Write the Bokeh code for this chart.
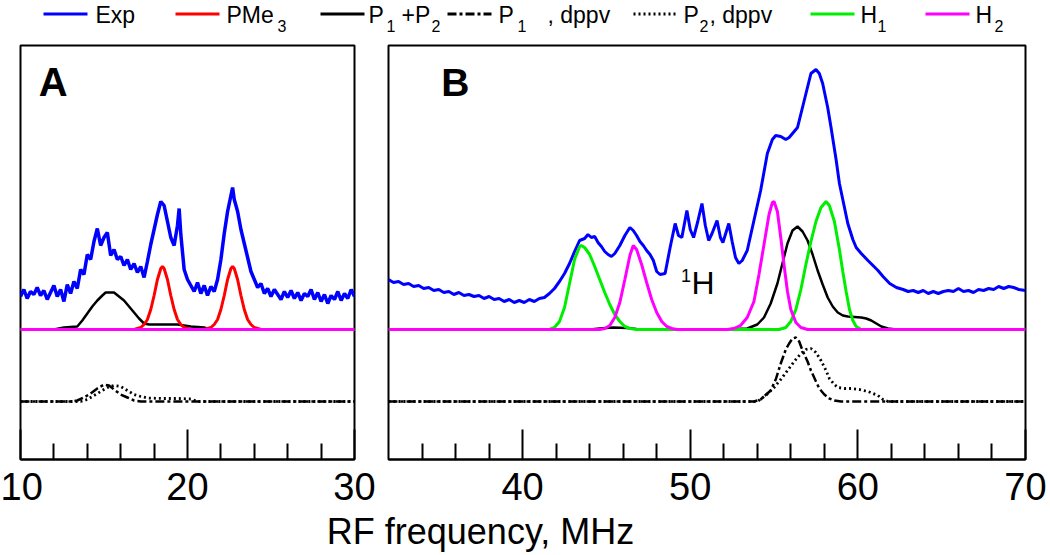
from bokeh.plotting import figure
from bokeh.layouts import column, row
from bokeh.models import Range1d, FixedTicker, Label
from bokeh.core.properties import value
from bokeh.embed import file_html
from bokeh.resources import INLINE

FONT = "Liberation Sans"

# ---------------- data (intensity in arbitrary units; 0 = fit baseline, -72 = dppv baseline)
# Panel A (10-30 MHz)
exp_a_f = [10.0, 10.2, 10.4, 10.6, 10.8, 11.0, 11.2, 11.4, 11.6, 11.8, 12.0, 12.2, 12.4, 12.6, 12.8,
           13.0, 13.2, 13.4, 13.6, 13.8, 14.0, 14.2, 14.4, 14.6, 14.8, 15.0, 15.2, 15.4, 15.6, 15.8,
           16.0, 16.2, 16.4, 16.6, 16.8, 17.0, 17.2, 17.4, 17.6, 17.8, 18.0, 18.2, 18.4, 18.6, 18.8,
           19.0, 19.2, 19.4, 19.5, 19.6, 19.8, 20.0, 20.2, 20.4, 20.6, 20.8, 21.0, 21.2, 21.4, 21.6,
           21.8, 22.0, 22.2, 22.4, 22.6, 22.7, 22.8, 23.0, 23.2, 23.4, 23.6, 23.8, 24.0, 24.2, 24.4,
           24.6, 24.8, 25.0, 25.2, 25.4, 25.6, 25.8, 26.0, 26.2, 26.4, 26.6, 26.8, 27.0, 27.2, 27.4,
           27.6, 27.8, 28.0, 28.2, 28.4, 28.6, 28.8, 29.0, 29.2, 29.4, 29.6, 29.8, 30.0]
exp_a_v = [33, 40, 31, 38, 35, 42, 34, 39, 30, 37, 44, 33, 40, 28, 45,
           36, 48, 41, 60, 55, 75, 70, 88, 101, 84, 92, 97, 74, 80, 70,
           73, 64, 70, 60, 66, 57, 63, 52, 68, 85, 100, 115, 128, 124, 108,
           92, 84, 104, 121, 95, 60, 50, 44, 38, 47, 36, 44, 34, 43, 38,
           50, 70, 96, 118, 134, 142, 130, 118, 100, 86, 72, 58, 50, 42, 46,
           36, 41, 33, 40, 35, 30, 38, 32, 39, 31, 37, 29, 36, 33, 40,
           30, 37, 28, 35, 26, 34, 30, 38, 29, 36, 31, 40, 33]

pme3_f = [10.0, 16.8, 17.0, 17.2, 17.4, 17.6, 17.8, 18.0, 18.2, 18.4, 18.5, 18.6, 18.8, 19.0, 19.2,
          19.4, 19.6, 19.8, 20.0, 20.2, 21.0, 21.2, 21.4, 21.6, 21.8, 22.0, 22.2, 22.4, 22.6, 22.7,
          22.8, 23.0, 23.2, 23.4, 23.6, 23.8, 24.0, 24.2, 24.4, 30.0]
pme3_v = [0, 0, 1, 2, 5, 10, 20, 34, 50, 61, 63, 61, 50, 34, 20,
          10, 5, 2, 1, 0, 0, 1, 2, 5, 10, 20, 34, 50, 61, 63,
          61, 50, 34, 20, 10, 5, 2, 1, 0, 0]

p12_a_f = [10.0, 12.0, 12.6, 13.4, 13.7, 14.0, 14.3, 14.6, 14.9, 15.1, 15.6, 15.9, 16.2, 16.5, 16.8,
           17.1, 17.4, 17.7, 18.5, 19.4, 19.8, 20.2, 20.6, 21.0, 21.3, 30.0]
p12_a_v = [0, 0, 2, 3, 9, 16, 23, 29, 34, 37, 37, 33, 29, 23, 17,
           11, 6, 5, 5, 5, 4, 3, 2.5, 2, 0, 0]

p1d_a_f = [10.0, 13.0, 13.4, 13.8, 14.2, 14.6, 15.0, 15.3, 15.6, 16.0, 16.4, 16.8, 17.2, 30.0]
p1d_a_v = [-72, -72, -71, -68, -64, -59, -55, -56, -60, -65, -68, -71, -72, -72]

p2d_a_f = [10.0, 13.6, 14.0, 14.4, 14.8, 15.2, 15.6, 16.0, 16.4, 16.8, 17.2, 17.6, 18.5, 19.5,
           20.2, 20.6, 30.0]
p2d_a_v = [-72, -72, -70, -66, -62, -58, -56, -57, -61, -65, -67, -68.5, -69, -69,
           -69.5, -72, -72]

h1_a_f = [10.0, 30.0]
h1_a_v = [0, 0]
h2_a_f = [10.0, 30.0]
h2_a_v = [0, 0]

# Panel B (32-70 MHz)
exp_b_f = [32.0, 32.3, 32.6, 32.9, 33.2, 33.5, 33.8, 34.1, 34.4, 34.7, 35.0, 35.3, 35.6, 35.9, 36.2,
           36.5, 36.8, 37.1, 37.4, 37.7, 38.0, 38.3, 38.6, 38.9, 39.2, 39.5, 39.8, 40.1, 40.4, 40.7,
           41.0, 41.3, 41.6, 41.9, 42.2, 42.5, 42.8, 43.1, 43.4, 43.7, 43.9, 44.1, 44.3, 44.5, 44.7,
           44.9, 45.1, 45.3, 45.5, 45.8, 46.1, 46.4, 46.6, 46.8, 47.0, 47.2, 47.4, 47.6, 47.8, 48.0,
           48.2, 48.5, 48.8, 49.1, 49.3, 49.5, 49.8, 50.0, 50.2, 50.45, 50.7, 50.9, 51.1, 51.3, 51.6,
           51.8, 51.95, 52.3, 52.5, 52.7, 52.9, 53.1, 53.4, 53.8, 54.2, 54.6, 54.9, 55.1, 55.4, 55.7,
           55.9, 56.1, 56.4, 56.8, 57.2, 57.5, 57.7, 57.9, 58.2, 58.4, 58.7, 58.9, 59.2, 59.4, 59.7,
           59.9, 60.2, 60.6, 60.9, 61.2, 61.5, 61.9, 62.3, 62.7, 63.0, 63.3, 63.6, 63.9, 64.2, 64.5,
           64.8, 65.1, 65.4, 65.7, 66.0, 66.3, 66.6, 66.9, 67.2, 67.5, 67.8, 68.1, 68.4, 68.7, 69.0,
           69.3, 69.6, 70.0]
exp_b_v = [50, 47, 48, 45, 46, 43, 44, 41, 42, 39, 40, 37, 38, 35, 37,
           34, 35, 33, 34, 31, 33, 30, 31, 28, 30, 27, 29, 27, 30, 28,
           31, 32, 36, 41, 48, 56, 66, 78, 89, 91, 95, 92, 93, 87, 83,
           78, 75, 73, 76, 84, 94, 102, 99, 94, 88, 84, 79, 75, 69, 58,
           55, 56, 82, 106, 94, 92, 119, 100, 92, 108, 126, 104, 89, 96, 109,
           92, 87, 106, 88, 72, 66, 69, 79, 109, 139, 176, 190, 194, 193, 190,
           192, 196, 202, 229, 256, 260, 256, 246, 222, 202, 170, 146, 122, 106, 90,
           82, 76, 69, 64, 59, 53, 46, 42, 40, 38, 39, 37, 39, 36, 38,
           36, 38, 39, 38, 41, 38, 39, 37, 40, 39, 41, 40, 43, 41, 43,
           42, 40, 39]

p12_b_f = [32.0, 44.0, 44.6, 45.4, 46.2, 46.8, 47.5, 52.0, 53.4, 54.0, 54.4, 54.8, 55.2, 55.5, 55.8,
           56.1, 56.4, 56.7, 57.0, 57.3, 57.6, 57.9, 58.2, 58.5, 58.8, 59.1, 59.4, 59.8, 60.2, 60.5,
           60.8, 61.1, 61.4, 61.8, 62.3, 70.0]
p12_b_v = [0, 0, 1, 2, 1.5, 0.5, 0, 0, 1, 5, 12, 26, 46, 66, 86,
           99, 103, 98, 89, 75, 59, 45, 32, 23, 17, 14, 13, 12.5, 12, 11,
           9, 6, 3, 1, 0, 0]

p1d_b_f = [32.0, 53.8, 54.2, 54.8, 55.1, 55.4, 55.7, 55.9, 56.1, 56.3, 56.5, 56.7, 57.0, 57.2, 57.5,
           57.7, 58.0, 58.3, 58.6, 59.0, 70.0]
p1d_b_v = [-72, -72, -70, -61, -50, -34, -20, -14, -9, -8, -12, -21, -32, -41, -52,
           -59, -65, -69, -71, -72, -72]

p2d_b_f = [32.0, 54.0, 54.5, 55.0, 55.4, 55.8, 56.2, 56.6, 56.9, 57.2, 57.5, 57.8, 58.1, 58.3, 58.6,
           58.8, 59.2, 59.6, 60.1, 60.6, 60.9, 61.2, 61.5, 61.8, 70.0]
p2d_b_v = [-72, -72, -66, -58, -50, -41, -32, -24, -20, -19, -23, -31, -41, -49, -55,
           -58, -59, -59, -60, -62, -64, -66, -70, -72, -72]

h1_b_f = [32.0, 41.6, 41.9, 42.2, 42.5, 42.8, 43.1, 43.4, 43.5, 43.7, 44.0, 44.3, 44.6, 44.9, 45.2,
          45.5, 45.8, 46.1, 46.4, 46.8, 55.3, 55.7, 56.0, 56.3, 56.6, 56.9, 57.2, 57.5, 57.8, 58.1,
          58.3, 58.6, 58.9, 59.1, 59.3, 59.5, 59.7, 59.9, 60.2, 70.0]
h1_b_v = [0, 0, 2, 8, 22, 46, 70, 83, 84, 82, 75, 63, 50, 37, 25,
          15, 8, 3, 1, 0, 0, 2, 8, 20, 40, 65, 88, 108, 122, 128,
          124, 108, 80, 58, 38, 20, 9, 3, 0, 0]

h2_b_f = [32.0, 44.6, 44.9, 45.2, 45.5, 45.8, 46.1, 46.4, 46.6, 46.8, 47.1, 47.4, 47.7, 48.0, 48.3,
          48.6, 48.9, 49.2, 52.2, 52.6, 53.0, 53.4, 53.8, 54.1, 54.4, 54.7, 54.9, 55.0, 55.2, 55.4,
          55.6, 55.8, 56.0, 56.3, 56.6, 57.0, 70.0]
h2_b_v = [0, 0, 1, 4, 12, 27, 50, 74, 84, 80, 65, 47, 30, 17, 8,
          3, 1, 0, 0, 1, 4, 12, 28, 55, 85, 115, 127, 128, 118, 92,
          64, 38, 20, 7, 2, 0, 0]

ticks_a = [10, 20, 30]
minor_a = [12, 14, 16, 18, 22, 24, 26, 28]
ticks_b = [40, 50, 60, 70]
minor_b = [34, 36, 38, 42, 44, 46, 48, 52, 54, 56, 58, 62, 64, 66, 68]

# ---------------- styles
BLUE = "#0000FF"
RED = "#FF0000"
GREEN = "#00EE00"
MAG = "#FF00FF"
DASHDOT = "9 3 3 3"
DOT = "2 3"

Y0, Y1 = -130, 284
W = 1050
H = 555
LEG_H = 44
PANEL_H = 475          # 1 top + 414 frame + 60 bottom
OVERLAP = 9            # title strip slides up under the (empty) bottom of the panel border
LAB_H = H - LEG_H - PANEL_H + OVERLAP
LAB_TOP = LEG_H + PANEL_H - OVERLAP


def make_panel(xr, width, bl, br, major, minor):
    p = figure(width=width, height=PANEL_H, x_range=Range1d(*xr), y_range=Range1d(Y0, Y1),
               output_backend="svg", toolbar_location=None, y_axis_location=None,
               min_border_left=bl, min_border_right=br, min_border_top=1, min_border_bottom=60,
               background_fill_color="white", border_fill_color="white")
    p.xgrid.visible = False
    p.ygrid.visible = False
    p.outline_line_color = "black"
    p.outline_line_width = 2
    p.outline_line_alpha = 1.0
    ax = p.xaxis[0]
    ax.ticker = FixedTicker(ticks=major, minor_ticks=minor)
    ax.major_tick_in = 30
    ax.major_tick_out = 0
    ax.minor_tick_in = 16
    ax.minor_tick_out = 0
    ax.major_tick_line_width = 2
    ax.minor_tick_line_width = 2
    ax.axis_line_width = 2
    ax.major_label_standoff = 13
    ax.major_label_text_font = FONT
    ax.major_label_text_font_size = "38px"
    ax.major_label_text_color = "black"
    return p


pa = make_panel((10, 30), 378, 20, 24, ticks_a, minor_a)
pa.line(exp_a_f, exp_a_v, line_color=BLUE, line_width=3.5)
pa.line(p12_a_f, p12_a_v, line_color="black", line_width=2.5)
pa.line(pme3_f, pme3_v, line_color=RED, line_width=3)
pa.line(p1d_a_f, p1d_a_v, line_color="black", line_width=2.5, line_dash=DASHDOT)
pa.line(p2d_a_f, p2d_a_v, line_color="black", line_width=2.8, line_dash=DOT)
pa.line(h1_a_f, h1_a_v, line_color=GREEN, line_width=3)
pa.line(h2_a_f, h2_a_v, line_color=MAG, line_width=3)
pa.add_layout(Label(x=11.1, y=226, text="A", text_font=FONT, text_font_size="40px",
                    text_font_style="bold", text_color="black"))

pb = make_panel((32, 70), W - 378, 10, 25, ticks_b, minor_b)
pb.line(exp_b_f, exp_b_v, line_color=BLUE, line_width=3)
pb.line(p12_b_f, p12_b_v, line_color="black", line_width=2.5)
pb.line(p1d_b_f, p1d_b_v, line_color="black", line_width=2.5, line_dash=DASHDOT)
pb.line(p2d_b_f, p2d_b_v, line_color="black", line_width=2.8, line_dash=DOT)
pb.line(h1_b_f, h1_b_v, line_color=GREEN, line_width=3)
pb.line(h2_b_f, h2_b_v, line_color=MAG, line_width=3)
pb.add_layout(Label(x=35.15, y=226, text="B", text_font=FONT, text_font_size="39px",
                    text_font_style="bold", text_color="black"))
pb.add_layout(Label(x=49.45, y=48, text="1", text_font=FONT, text_font_size="18px",
                    text_color="black"))
pb.add_layout(Label(x=50.07, y=29, text="H", text_font=FONT, text_font_size="32px",
                    text_color="black"))

# ---------------- legend strip (coords: px from left / top of the strip)
leg = figure(width=W, height=LEG_H, x_range=Range1d(0, W), y_range=Range1d(LEG_H, 0),
             output_backend="svg", toolbar_location=None, x_axis_location=None,
             y_axis_location=None, min_border=0, min_border_left=0, min_border_right=0,
             min_border_top=0, min_border_bottom=0)
leg.xgrid.visible = False
leg.ygrid.visible = False
leg.outline_line_color = None

LY = 13.5     # line y
TY = 14       # text anchor
SY = 25       # subscript anchor
seg_x0 = [43, 175, 320, 447, 633, 810, 925]
seg_styles = [(BLUE, None), (RED, None), ("black", None), ("black", DASHDOT),
              ("black", DOT), (GREEN, None), (MAG, None)]
for x0, (col, dash) in zip(seg_x0, seg_styles):
    kw = dict(line_color=col, line_width=3)
    if dash:
        kw["line_dash"] = dash
        kw["line_width"] = 2.8
    leg.segment(x0=[x0], y0=[LY], x1=[x0 + 44], y1=[LY], **kw)

main_txt = ["Exp", "PMe", "P", "+P", "P", ", dppv", "P", ", dppv", "H", "H"]
main_x = [95, 226, 368, 401, 498, 547, 683, 709, 860, 975]
sub_txt = ["3", "1", "2", "1", "2", "1", "2"]
sub_x = [277, 386, 431, 517, 699, 877, 994]
leg.text(x=main_x, y=[TY] * len(main_x), text=main_txt, text_font=value(FONT),
         text_font_size="23px", text_color="black", text_baseline="alphabetic",
         text_align="left")
leg.text(x=sub_x, y=[SY] * len(sub_x), text=sub_txt, text_font=value(FONT),
         text_font_size="16px", text_color="black", text_baseline="alphabetic",
         text_align="left")

# ---------------- x-axis title strip (transparent, overlaps the empty bottom of the panels)
lab = figure(width=W, height=LAB_H, x_range=Range1d(0, W), y_range=Range1d(LAB_H, 0),
             output_backend="svg", toolbar_location=None, x_axis_location=None,
             y_axis_location=None, min_border=0, min_border_left=0, min_border_right=0,
             min_border_top=0, min_border_bottom=0,
             background_fill_color=None, border_fill_color=None)
lab.margin = (-OVERLAP, 0, 0, 0)
lab.xgrid.visible = False
lab.ygrid.visible = False
lab.outline_line_color = None
lab.text(x=[480], y=[530.5 - LAB_TOP], text=["RF frequency, MHz"], text_font=value(FONT),
         text_font_size="36px", text_color="black", text_baseline="alphabetic",
         text_align="center")

layout = column(leg, row(pa, pb), lab)
open("out.html", "w").write(file_html(layout, INLINE))
